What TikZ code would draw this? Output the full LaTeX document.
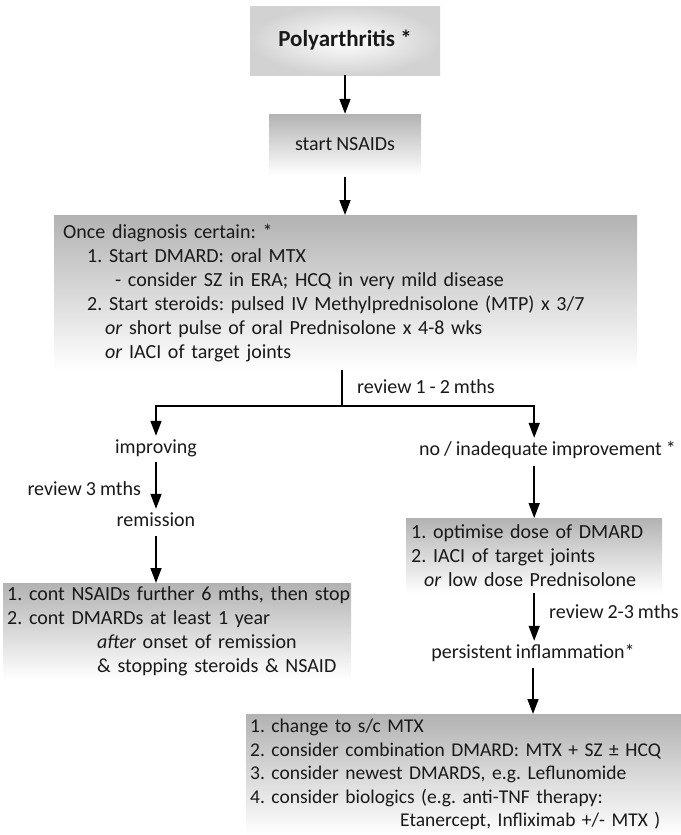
\documentclass[tikz,border=0pt]{standalone}
\usepackage{fontspec}
\setmainfont{Carlito}
\usetikzlibrary{arrows.meta}
\frenchspacing
\newcommand\narrowspaces{\spaceskip=.2em plus .1em\relax}
\begin{document}
\begin{tikzpicture}[x=1pt,y=-1pt,
        every node/.style={font=\fontsize{20}{24}\selectfont\frenchspacing\narrowspaces,text=black!90},
        flowbox/.style={anchor=north west,align=left,inner ysep=0pt,top color=gray!60,bottom color=white},
        lbl/.style={inner sep=2pt,text height=15pt,text depth=5pt},
        flowarrow/.style={-{Triangle[width=11pt,length=15pt]},line width=1.6pt}]
    \useasboundingbox (0,0) rectangle (680,835);

    \node (poly) at (345,40.5) [minimum width=190pt,minimum height=69pt,shading=radial,inner color=white,outer color=gray!35,font=\fontsize{23}{26}\selectfont\bfseries] {Polyarthritis *};
    \node (nsaid) at (345,144.5) [minimum width=152pt,minimum height=61pt,top color=gray!60,bottom color=white] {start NSAIDs};
    \draw[flowarrow] (poly) -- (nsaid);

    \node (diag) at (54,215) [flowbox,inner xsep=9pt,text width=565pt,minimum height=155pt] {Once diagnosis certain: *\\
        \hspace*{24pt}1. Start DMARD: oral MTX\\
        \hspace*{52pt}- consider SZ in ERA; HCQ in very mild disease\\
        \hspace*{24pt}2. Start steroids: pulsed IV Methylprednisolone (MTP) x 3/7\\
        \hspace*{42pt}\textit{or} short pulse of oral Prednisolone x 4-8 wks\\
        \hspace*{42pt}\textit{or} IACI of target joints};
    \draw[flowarrow,shorten <=2pt] (nsaid) -- (nsaid |- diag.north);

    \node (opt) at (406,518) [flowbox,inner xsep=5pt,text width=246pt,minimum height=75pt] {1. optimise dose of DMARD\\
        2. IACI of target joints\\
        \hspace*{13pt}\textit{or} low dose Prednisolone};
    \node (cont) at (3,583) [flowbox,inner xsep=4pt,text width=340pt,minimum height=96pt] {\mbox{1. cont NSAIDs further 6 mths, then stop}\\
        2. cont DMARDs at least 1 year\\
        \hspace*{90pt}\textit{after} onset of remission\\
        \hspace*{90pt}\& stopping steroids \& NSAID};
    \node (change) at (246,714) [flowbox,inner xsep=4pt,text width=428pt,minimum height=121pt,font=\fontsize{19.5}{23.5}\selectfont\frenchspacing\narrowspaces] {1. change to s/c MTX\\
        2. consider combination DMARD: MTX + SZ ± HCQ\\
        3. consider newest DMARDS, e.g. Leflunomide\\
        4. consider biologics (e.g. anti-TNF therapy:\\
        \hspace*{150pt}Etanercept, Infliximab +/- MTX )};

    \coordinate (split) at (342,406);
    \draw[line width=1.6pt] (diag.south -| split) -- (split);
    \node (rev12) at (355,393) [anchor=base west,lbl] {review 1 - 2 mths};
    \node (improving) at (156,453) [anchor=base,lbl] {improving};
    \node (noimp) at (678,455) [anchor=base east,lbl] {no / inadequate improvement *};
    \draw[flowarrow] (split) -| (improving);
    \draw[flowarrow] (split) -| (noimp.north -| opt.north);

    \node (remission) at (156,526) [anchor=base,lbl] {remission};
    \node (rev3) at (143,495) [anchor=base east,lbl] {review 3 mths};
    \draw[flowarrow,shorten <=2pt] (improving) -- (remission);
    \draw[flowarrow,shorten <=3pt] (remission) -- (remission |- cont.north);

    \draw[flowarrow,shorten <=4pt] (noimp.south -| opt.north) -- (opt.north);
    \node (persist) at (533,658) [anchor=base,lbl] {persistent inflammation*};
    \node (rev23) at (547,618) [anchor=base west,lbl] {review 2-3 mths};
    \draw[flowarrow] (opt.south) -- (opt.south |- persist.north);
    \draw[flowarrow,shorten <=3pt] (persist) -- (persist |- change.north);
\end{tikzpicture}
\end{document}
